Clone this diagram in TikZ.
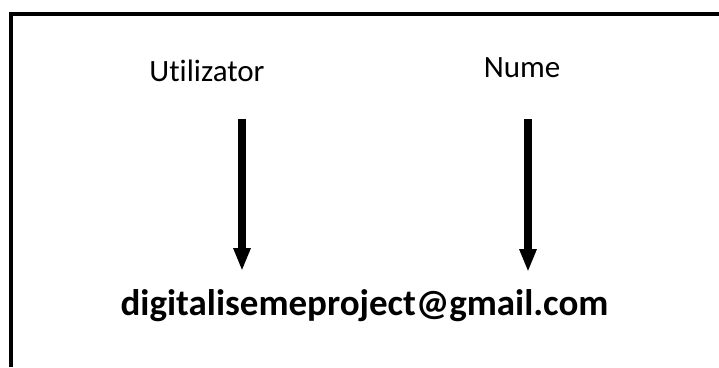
\documentclass[tikz,border=0pt]{standalone}
\usepackage{fontspec}
\setmainfont{Carlito}[Ligatures={NoCommon}]
\usetikzlibrary{arrows.meta}
\begin{document}
\begin{tikzpicture}[x=1pt,y=-1pt,
  label/.style={anchor=base,inner sep=0pt,font=\fontsize{31}{37}\selectfont},
  mail/.style={anchor=base,inner sep=0pt,font=\fontsize{37}{43}\selectfont\bfseries},
  bigarrow/.style={line width=8pt,-{Triangle[length=23pt,width=16pt]}},
  frame/.style={line width=3.6pt,line join=miter}]
\useasboundingbox (0,0) rectangle (719,367);
\draw[frame] (11,367) -- (11,13.7) -- (719,13.7);
\node[label] (u) at (207,81) {Utilizator};
\node[label] (n) at (522,77) {Nume};
\node[mail] (m) at (364.5,315) {digitalisemeproject@gmail.com};
\coordinate (us) at (242,119);
\coordinate (ue) at (242,271);
\coordinate (ns) at (528,119);
\coordinate (ne) at (528,272);
\draw[bigarrow] (us) -- (ue);
\draw[bigarrow] (ns) -- (ne);
\end{tikzpicture}
\end{document}
